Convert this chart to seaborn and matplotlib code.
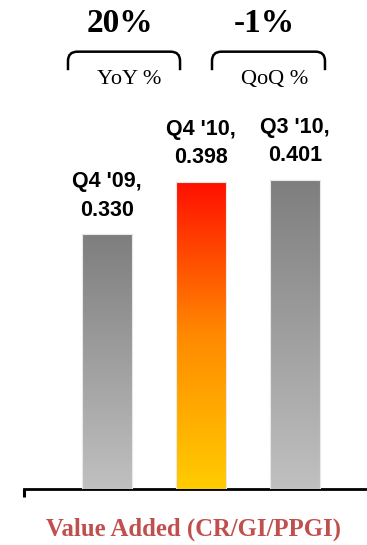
import numpy as np
import pandas as pd
import matplotlib
matplotlib.use("Agg")
import matplotlib.pyplot as plt
from matplotlib.colors import LinearSegmentedColormap
from matplotlib.path import Path
from matplotlib.patches import PathPatch
import seaborn as sns

# Data
periods = ["Q4 '09", "Q4 '10", "Q3 '10"]
values = [0.330, 0.398, 0.401]
changes = ["20%", "-1%"]
change_labels = ["YoY %", "QoQ %"]
xlabel = "Value Added (CR/GI/PPGI)"

sns.set_style("white")

fig = plt.figure(figsize=(3.67, 5.45), dpi=100)
ax = fig.add_axes([24 / 367, 56 / 545, 343 / 367, 489 / 545])

df = pd.DataFrame({"period": periods, "value": values})
sns.barplot(data=df, x="period", y="value", ax=ax, width=0.54,
            color="#a0a0a0", edgecolor="none", zorder=2)

ax.set_xlim(-0.883, 2.766)
ax.set_ylim(0, 0.634)

# Vertical gradients painted inside each bar
grey_cmap = LinearSegmentedColormap.from_list("grey", ["#c0c0c0", "#7e7e7e"])
hot_cmap = LinearSegmentedColormap.from_list("hot", ["#ffcc00", "#ff8a00", "#ff1000"])
grad = np.linspace(0, 1, 256).reshape(-1, 1)
for i, patch in enumerate(ax.patches):
    x0, y0 = patch.get_x(), patch.get_y()
    w, h = patch.get_width(), patch.get_height()
    cmap = hot_cmap if i == 1 else grey_cmap
    im = ax.imshow(grad, extent=[x0, x0 + w, y0, y0 + h], origin="lower",
                   cmap=cmap, aspect="auto", zorder=3)
    im.set_clip_path(patch)
    patch.set_facecolor("none")
    ax.add_patch(plt.Rectangle((x0, y0), w, h, fill=False,
                               edgecolor="#e8e8e8", linewidth=0.8, zorder=4))
    ax.annotate(f"{periods[i]},\n{values[i]:.3f}", (x0 + w / 2, y0 + h),
                xytext=(0, 10), textcoords="offset points",
                ha="center", va="bottom", fontsize=15.5, fontweight="bold",
                family="Liberation Sans", linespacing=1.45, color="black")

# Axis styling: only a bottom baseline with a short end tick
sns.despine(ax=ax, left=True, top=True, right=True)
ax.spines["bottom"].set_linewidth(2)
ax.spines["bottom"].set_color("black")
ax.set_xticks([])
ax.set_yticks([])
ax.set_xlabel("")
ax.set_ylabel("")
ax.plot([ax.get_xlim()[0], ax.get_xlim()[0]], [0, -0.011], color="black",
        lw=2.2, clip_on=False, solid_capstyle="butt")
ax.patch.set_alpha(0)

# Brackets with period-over-period changes
spans = [(-0.415, 0.777), (1.117, 2.319)]
y_top, y_bot = 0.567, 0.543
for (xa, xb), pct, lab in zip(spans, changes, change_labels):
    r = 0.10
    ry = 0.012
    verts = [(xa, y_bot), (xa, y_top - ry), (xa, y_top), (xa + r, y_top),
             (xb - r, y_top), (xb, y_top), (xb, y_top - ry), (xb, y_bot)]
    codes = [Path.MOVETO, Path.LINETO, Path.CURVE3, Path.CURVE3,
             Path.LINETO, Path.CURVE3, Path.CURVE3, Path.LINETO]
    ax.add_patch(PathPatch(Path(verts, codes), fill=False, lw=1.8,
                           edgecolor="black", clip_on=False))
    mid = (xa + xb) / 2
    ax.text(mid + 0.06, 0.525, lab, ha="center", va="baseline", fontsize=16,
            family="Liberation Serif", color="black")
    ax.text(mid - 0.04, 0.592, pct, ha="center", va="baseline", fontsize=24,
            family="Liberation Serif", fontweight="bold", color="black")

fig.text(193 / 367, 1 - 529 / 545, xlabel, ha="center", va="center",
         fontsize=17.8, family="Liberation Serif", fontweight="bold",
         color="#c0504d")

fig.savefig("out.png", dpi=100)
